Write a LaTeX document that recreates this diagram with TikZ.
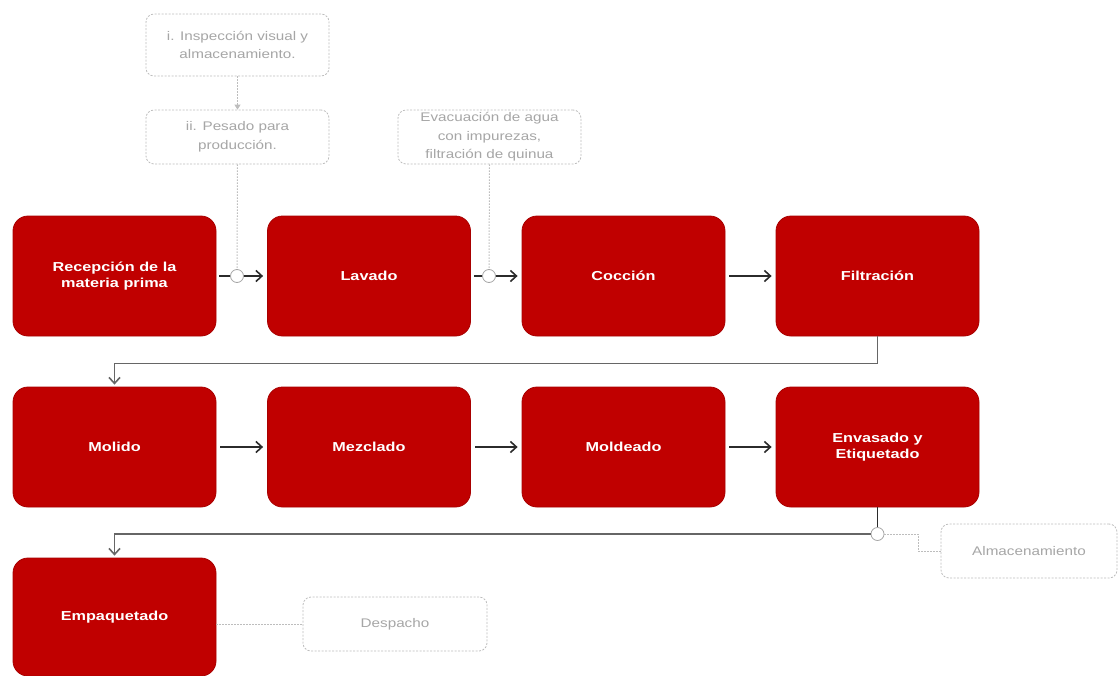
\documentclass[tikz,border=0pt]{standalone}
\usepackage{fontspec}
\setmainfont{Liberation Sans}
\newfontfamily\boxfont[FakeStretch=1.25]{Liberation Sans}
\newfontfamily\notefont[FakeStretch=1.22]{Liberation Sans}
\usetikzlibrary{arrows.meta}
\definecolor{procred}{HTML}{C00000}
\definecolor{procedge}{HTML}{A80000}
\definecolor{notegray}{HTML}{A6A6A6}
\definecolor{noteedge}{HTML}{BDBDBD}
\definecolor{flowline}{HTML}{2B2B2B}
\tikzset{
  procbox/.style={draw=procedge, line width=0.8pt, fill=procred, rounded corners=15pt,
    minimum width=203pt, minimum height=120pt, align=center, text=white,
    font=\boxfont\bfseries\fontsize{13}{16}\selectfont},
  notebox/.style={draw=noteedge, dash pattern=on 2pt off 1.5pt, line width=0.8pt,
    rounded corners=8pt, align=center, text=notegray, fill=white,
    font=\notefont\fontsize{12.5}{18.5}\selectfont},
  flow/.style={draw=flowline, line width=1.6pt, -{Straight Barb[length=6pt,width=11pt,line width=1.6pt]}},
  plainflow/.style={draw=flowline, line width=1.6pt},
  joint/.style={circle, draw=gray!70, line width=0.8pt, fill=white, inner sep=0pt,
    minimum width=13pt, minimum height=11pt},
  dotline/.style={draw=noteedge, line width=1pt, dash pattern=on 1.5pt off 1.5pt}
}
\begin{document}
\begin{tikzpicture}[x=1pt,y=-1pt]
\useasboundingbox (0,0) rectangle (1119,675);
% process steps
\node[procbox] (recep) at (114.5,276) {Recepción de la\\materia prima};
\node[procbox] (lavado) at (369,276) {Lavado};
\node[procbox] (coccion) at (623.5,276) {Cocción};
\node[procbox] (filt) at (877.5,276) {Filtración};
\node[procbox] (molido) at (114.5,447) {Molido};
\node[procbox] (mezcla) at (369,447) {Mezclado};
\node[procbox] (molde) at (623.5,447) {Moldeado};
\node[procbox] (envas) at (877.5,447) {Envasado y\\Etiquetado};
\node[procbox, minimum height=118pt] (empaq) at (114.5,617) {Empaquetado};
% side notes
\node[notebox, minimum width=183pt, minimum height=62pt] (insp) at (237.5,45) {i. Inspección visual y\\almacenamiento.};
\node[notebox, minimum width=183pt, minimum height=54pt] (pesado) at (237.5,137) {ii. Pesado para\\producción.};
\node[notebox, minimum width=183pt, minimum height=54pt, inner sep=1pt] (evac) at (489.5,137) {Evacuación de agua\\con impurezas,\\filtración de quinua};
\node[notebox, minimum width=176pt, minimum height=54pt] (alm) at (1029,551) {Almacenamiento};
\node[notebox, minimum width=184pt, minimum height=54pt] (desp) at (395,624) {Despacho};
% junction points
\node[joint] (j1) at (237,276) {};
\node[joint] (j2) at (489,276) {};
\node[joint] (j3) at (877.5,534) {};
% dotted feeds
\draw[dotline, -{Triangle[length=5pt,width=6pt]}] (insp.south) -- (pesado.north);
\draw[dotline] (pesado.south) -- (j1.north);
\draw[dotline] (evac.south) -- (j2.north);
\draw[dotline] (j3.east) -- ++(34,0) |- (alm.west);
\draw[dotline] (empaq.east |- desp.west) -- (desp.west);
% main flow
\draw[plainflow, shorten <=3pt] (recep.east) -- (j1.west);
\draw[flow, shorten >=4pt] (j1.east) -- (lavado.west);
\draw[plainflow, shorten <=3pt] (lavado.east) -- (j2.west);
\draw[flow, shorten >=4pt] (j2.east) -- (coccion.west);
\draw[flow, shorten <=4pt, shorten >=4pt] (coccion.east) -- (filt.west);
\draw[flow, draw=gray!80!black, shorten >=2pt] (filt.south) -- ++(0,27) -| (molido.north);
\draw[flow, shorten <=4pt, shorten >=4pt] (molido.east) -- (mezcla.west);
\draw[flow, shorten <=4pt, shorten >=4pt] (mezcla.east) -- (molde.west);
\draw[flow, shorten <=4pt, shorten >=4pt] (molde.east) -- (envas.west);
\draw[plainflow] (envas.south) -- (j3.north);
\draw[flow, draw=gray!80!black, shorten >=2pt] (j3.west) -| (empaq.north);
\end{tikzpicture}
\end{document}
